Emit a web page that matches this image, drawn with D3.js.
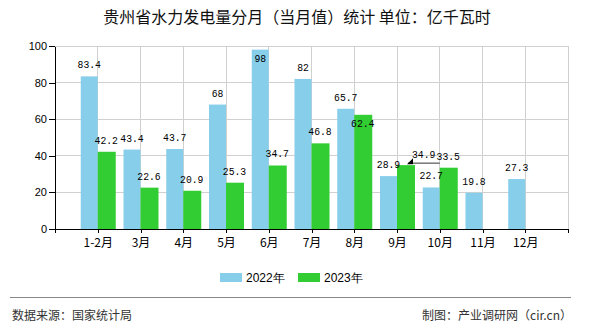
<!DOCTYPE html>
<html><head><meta charset="utf-8">
<script src="https://cdn.jsdelivr.net/npm/d3@7/dist/d3.min.js"></script>
<style>
html,body{margin:0;padding:0;background:#fff;}
svg{display:block;}
</style>
</head><body>
<svg id="chart" width="590" height="330"></svg>
<script>
const categories = ["1-2月","3月","4月","5月","6月","7月","8月","9月","10月","11月","12月"];
const values2022 = [83.4,43.4,43.7,68,98,82,65.7,28.9,22.7,19.8,27.3];
const values2023 = [42.2,22.6,20.9,25.3,34.7,46.8,62.4,34.9,33.5,null,null];
const seriesNames = ["2022年","2023年"];
const seriesColors = ["#87CEEB","#32CD32"];
const yTicks = [0,20,40,60,80,100];
const title = "贵州省水力发电量分月（当月值）统计 单位：亿千瓦时";
const sourceText = "数据来源：国家统计局";
const creditText = "制图：产业调研网（cir.cn）";

const svg = d3.select("#chart");
const L = 55, R = 568, T = 46, B = 229;
const x = d3.scaleLinear().domain([0, categories.length + 1]).range([L, R]);
const y = d3.scaleLinear().domain([0, 100]).range([B, T]);
const bw = 17;

// title
svg.append("text").attr("x", 297).attr("y", 23).attr("text-anchor","middle")
  .attr("font-family","'Noto Sans CJK SC'").attr("font-size",16).attr("fill","#111")
  .text(title);

// grid
const g = svg.append("g");
g.selectAll("line.h").data(yTicks.filter(d=>d>0)).join("line")
  .attr("x1",L).attr("x2",R).attr("y1",d=>y(d)).attr("y2",d=>y(d))
  .attr("stroke","#d0d0d0").attr("stroke-width",1).attr("shape-rendering","crispEdges");
g.selectAll("line.v").data(d3.range(1, categories.length + 2)).join("line")
  .attr("x1",d=>x(d)).attr("x2",d=>x(d)).attr("y1",T).attr("y2",B)
  .attr("stroke","#d0d0d0").attr("stroke-width",1).attr("shape-rendering","crispEdges");

// bars
const series = [values2022, values2023];
series.forEach((vals, si) => {
  svg.append("g").selectAll("rect").data(vals.map((v,i)=>({v,i})).filter(d=>d.v!=null)).join("rect")
    .attr("x", d => si === 0 ? x(d.i+1) - bw : x(d.i+1))
    .attr("width", bw + (si===1?1:0))
    .attr("y", d => y(d.v))
    .attr("height", d => B - y(d.v))
    .attr("fill", seriesColors[si]);
});

// axes
const xAxis = d3.axisBottom(x).tickValues(d3.range(0, categories.length + 2))
  .tickFormat(i => categories[i-1] || "").tickSize(4).tickSizeOuter(0);
const xa = svg.append("g").attr("transform",`translate(0,${B})`).call(xAxis);
xa.selectAll("text").attr("font-family","'Noto Sans CJK SC'").attr("font-size",12).attr("fill","#000").attr("dy","0.9em");
xa.selectAll("line,path").attr("stroke","#000").attr("shape-rendering","crispEdges");

const yAxis = d3.axisLeft(y).tickValues(yTicks).tickSize(6).tickSizeOuter(0);
const ya = svg.append("g").attr("transform",`translate(${L},0)`).call(yAxis);
ya.selectAll("text").attr("font-family","'Liberation Sans'").attr("font-size",11).attr("fill","#000").attr("x",-8);
ya.selectAll("line,path").attr("stroke","#000").attr("shape-rendering","crispEdges");

// value labels (with simple collision handling)
const lab = svg.append("g").attr("font-family","'Liberation Mono'").attr("font-size",11.5).attr("fill","#000");
const baseY = v => Math.max(y(v) - 8, T + 16);
const charW = 5.85;
const addLabel = (tx, ty, v, anchor) => lab.append("text").attr("x", tx).attr("y", ty)
  .attr("text-anchor", anchor).attr("textLength", String(v).length * charW)
  .attr("lengthAdjust","spacingAndGlyphs").text(String(v));
categories.forEach((c, i) => {
  const a = values2022[i], b = values2023[i];
  const cxA = x(i+1) - bw/2, cxB = x(i+1) + bw/2;
  if (a != null) addLabel(cxA, baseY(a), a, "middle");
  if (b == null) return;
  const clash = a != null && Math.abs(baseY(a) - baseY(b)) < 12;
  if (clash && b < a) {
    addLabel(cxB, y(b) + 12, b, "middle");
  } else if (clash) {
    const lx = cxB + 6.5, ly = y(b) - 7;
    addLabel(lx, ly, b, "start");
    lab.append("line").attr("x1", lx - 4).attr("x2", x(i+2)).attr("y1", ly + 5).attr("y2", ly + 5)
      .attr("stroke","#333").attr("stroke-width",1);
    lab.append("path").attr("d", `M${lx-5},${ly+6} L${lx+1},${ly} L${lx+1},${ly+6} Z`).attr("fill","#000");
  } else {
    addLabel(cxB, baseY(b), b, "middle");
  }
});

// legend
const leg = svg.append("g");
const legX = [220, 298];
seriesNames.forEach((n, i) => {
  leg.append("rect").attr("x", legX[i]).attr("y", 273).attr("width", 22).attr("height", 9).attr("fill", seriesColors[i]);
  leg.append("text").attr("x", legX[i] + 26).attr("y", 282).attr("font-family","'Liberation Sans'")
    .attr("font-size",12).attr("fill","#000").text(n);
});

// footer
svg.append("line").attr("x1",10).attr("x2",571).attr("y1",297.5).attr("y2",297.5).attr("stroke","#888").attr("stroke-width",1.2);
svg.append("text").attr("x",12).attr("y",320).attr("font-family","'Noto Sans CJK SC'").attr("font-size",12).attr("fill","#333").text(sourceText);
svg.append("text").attr("x",572).attr("y",320).attr("text-anchor","end").attr("font-family","'Noto Sans CJK SC'").attr("font-size",12).attr("fill","#333").text(creditText);
</script>
</body></html>
